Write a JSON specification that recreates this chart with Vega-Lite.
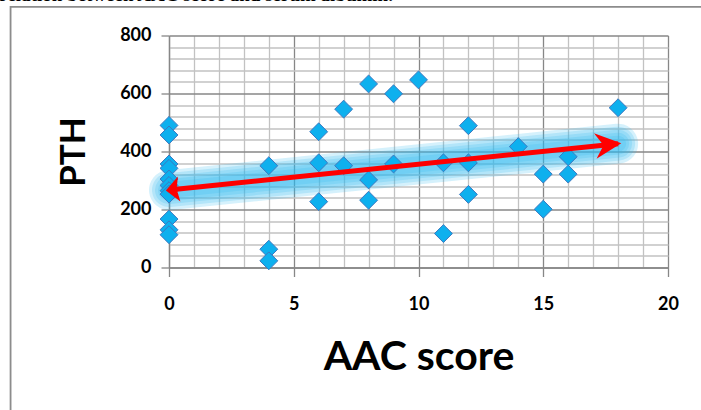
{
  "$schema": "https://vega.github.io/schema/vega-lite/v6.json",
  "width": 499,
  "height": 232,
  "autosize": {"type": "none"},
  "padding": {"left": 169, "top": 35.5, "right": 33, "bottom": 142.5},
  "background": "white",
  "datasets": {
    "pts": [
      {"aac": 0, "pth": 490}, {"aac": 0, "pth": 457}, {"aac": 0, "pth": 357}, {"aac": 0, "pth": 342},
      {"aac": 0, "pth": 305}, {"aac": 0, "pth": 283}, {"aac": 0, "pth": 265}, {"aac": 0, "pth": 253},
      {"aac": 0, "pth": 167}, {"aac": 0, "pth": 130}, {"aac": 0, "pth": 113},
      {"aac": 4, "pth": 351}, {"aac": 4, "pth": 63}, {"aac": 4, "pth": 23},
      {"aac": 6, "pth": 468}, {"aac": 6, "pth": 361}, {"aac": 6, "pth": 227},
      {"aac": 7, "pth": 546}, {"aac": 7, "pth": 351},
      {"aac": 8, "pth": 633}, {"aac": 8, "pth": 302}, {"aac": 8, "pth": 232},
      {"aac": 9, "pth": 599}, {"aac": 9, "pth": 357},
      {"aac": 10, "pth": 647},
      {"aac": 11, "pth": 361}, {"aac": 11, "pth": 117},
      {"aac": 12, "pth": 489}, {"aac": 12, "pth": 361}, {"aac": 12, "pth": 252},
      {"aac": 14, "pth": 417},
      {"aac": 15, "pth": 322}, {"aac": 15, "pth": 201},
      {"aac": 16, "pth": 382}, {"aac": 16, "pth": 322},
      {"aac": 18, "pth": 551}
    ],
    "arrow": [
      {"aac": 0, "pth": 267, "end": "start"},
      {"aac": 18, "pth": 427, "end": "end"}
    ],
    "caption": [
      {"aac": -6.8, "pth": 919, "text": "relation between AAC score and serum albumin."}
    ],
    "frame": [
      {"x0": -6.35, "x1": 22.5, "y0": 899, "y1": -600}
    ]
  },
  "layer": [
    {
      "data": {"name": "frame"},
      "mark": {"type": "rect", "filled": false, "stroke": "#8c8c8c", "strokeWidth": 1.8, "clip": false},
      "encoding": {
        "x": {"field": "x0", "type": "quantitative", "axis": null},
        "x2": {"field": "x1"},
        "y": {"field": "y0", "type": "quantitative", "axis": null},
        "y2": {"field": "y1"}
      }
    },
    {
      "data": {"name": "caption"},
      "mark": {"type": "text", "align": "left", "baseline": "alphabetic", "font": "Liberation Serif", "fontWeight": "bold", "fontSize": 19, "color": "#000000", "clip": false},
      "encoding": {
        "x": {"field": "aac", "type": "quantitative", "axis": null},
        "y": {"field": "pth", "type": "quantitative", "axis": null},
        "text": {"field": "text"}
      }
    },
    {
      "data": {"name": "arrow"},
      "mark": {"type": "line", "color": "#2cb8ee", "opacity": 0.2, "strokeWidth": 40, "strokeCap": "round"},
      "encoding": {
        "x": {"field": "aac", "type": "quantitative", "scale": {"domain": [0, 20], "nice": false},
          "axis": {"orient": "top", "values": [1, 2, 3, 4, 6, 7, 8, 9, 11, 12, 13, 14, 16, 17, 18, 19], "grid": true, "gridColor": "#c2c2c2", "gridWidth": 1.3, "labels": false, "ticks": false, "domain": false, "title": null}},
        "y": {"field": "pth", "type": "quantitative", "scale": {"domain": [0, 800], "nice": false},
          "axis": {"orient": "right", "values": [40, 80, 120, 160, 240, 280, 320, 360, 440, 480, 520, 560, 640, 680, 720, 760], "grid": true, "gridColor": "#c2c2c2", "gridWidth": 1.3, "labels": false, "ticks": false, "domain": false, "title": null}}
      }
    },
    {
      "data": {"name": "arrow"},
      "mark": {"type": "line", "color": "#2cb8ee", "opacity": 0.2, "strokeWidth": 34, "strokeCap": "round"},
      "encoding": {"x": {"field": "aac", "type": "quantitative", "axis": null}, "y": {"field": "pth", "type": "quantitative", "axis": null}}
    },
    {
      "data": {"name": "arrow"},
      "mark": {"type": "line", "color": "#2cb8ee", "opacity": 0.2, "strokeWidth": 28, "strokeCap": "round"},
      "encoding": {"x": {"field": "aac", "type": "quantitative", "axis": null}, "y": {"field": "pth", "type": "quantitative", "axis": null}}
    },
    {
      "data": {"name": "arrow"},
      "mark": {"type": "line", "color": "#2cb8ee", "opacity": 0.2, "strokeWidth": 22, "strokeCap": "round"},
      "encoding": {"x": {"field": "aac", "type": "quantitative", "axis": null}, "y": {"field": "pth", "type": "quantitative", "axis": null}}
    },
    {
      "data": {"name": "arrow"},
      "mark": {"type": "line", "color": "#2cb8ee", "opacity": 0.2, "strokeWidth": 16, "strokeCap": "round"},
      "encoding": {"x": {"field": "aac", "type": "quantitative", "axis": null}, "y": {"field": "pth", "type": "quantitative", "axis": null}}
    },
    {
      "data": {"name": "pts"},
      "mark": {"type": "point", "shape": "diamond", "filled": true, "size": 320, "fill": "#0eb0ee", "stroke": "#3d78c0", "strokeWidth": 1, "opacity": 1},
      "encoding": {
        "x": {"field": "aac", "type": "quantitative",
          "axis": {"orient": "bottom", "values": [0, 5, 10, 15, 20], "grid": true, "gridColor": "#878787", "gridWidth": 1.3,
            "domain": true, "domainColor": "#878787", "domainWidth": 1.3, "ticks": true, "tickSize": 9, "tickColor": "#878787", "tickWidth": 1.3,
            "labelFont": "Lato", "labelFontWeight": "bold", "labelFontSize": 18, "labelColor": "#000000", "labelPadding": 19, "labelFlush": false,
            "title": "AAC score", "titleFont": "Lato", "titleFontWeight": "bold", "titleFontSize": 41, "titleColor": "#000000", "titlePadding": 24}},
        "y": {"field": "pth", "type": "quantitative",
          "axis": {"orient": "left", "values": [0, 200, 400, 600, 800], "grid": true, "gridColor": "#878787", "gridWidth": 1.3,
            "domain": true, "domainColor": "#878787", "domainWidth": 1.3, "ticks": true, "tickSize": 8, "tickColor": "#878787", "tickWidth": 1.3,
            "labelFont": "Lato", "labelFontWeight": "bold", "labelFontSize": 18, "labelColor": "#000000", "labelPadding": 10, "labelFlush": false,
            "title": "PTH", "titleFont": "Lato", "titleFontWeight": "bold", "titleFontSize": 35, "titleColor": "#000000", "titlePadding": 28}}
      }
    },
    {
      "data": {"name": "arrow"},
      "mark": {"type": "line", "color": "#ff0000", "strokeWidth": 5, "strokeCap": "butt"},
      "encoding": {"x": {"field": "aac", "type": "quantitative", "axis": null}, "y": {"field": "pth", "type": "quantitative", "axis": null}}
    },
    {
      "data": {"name": "arrow"},
      "mark": {"type": "point", "filled": true, "size": 650, "angle": -5.8, "fill": "#ff0000", "strokeWidth": 0, "opacity": 1},
      "encoding": {
        "x": {"field": "aac", "type": "quantitative", "axis": null},
        "y": {"field": "pth", "type": "quantitative", "axis": null},
        "shape": {"field": "end", "type": "nominal", "legend": null,
          "scale": {"domain": ["start", "end"], "range": ["M-0.25,0L0.8,-0.98L0.6,0L0.8,0.98Z", "M0.25,0L-1.8,-1L-1.15,0L-1.8,1Z"]}}
      }
    }
  ],
  "resolve": {"axis": {"x": "independent", "y": "independent"}},
  "config": {"view": {"stroke": null}}
}
